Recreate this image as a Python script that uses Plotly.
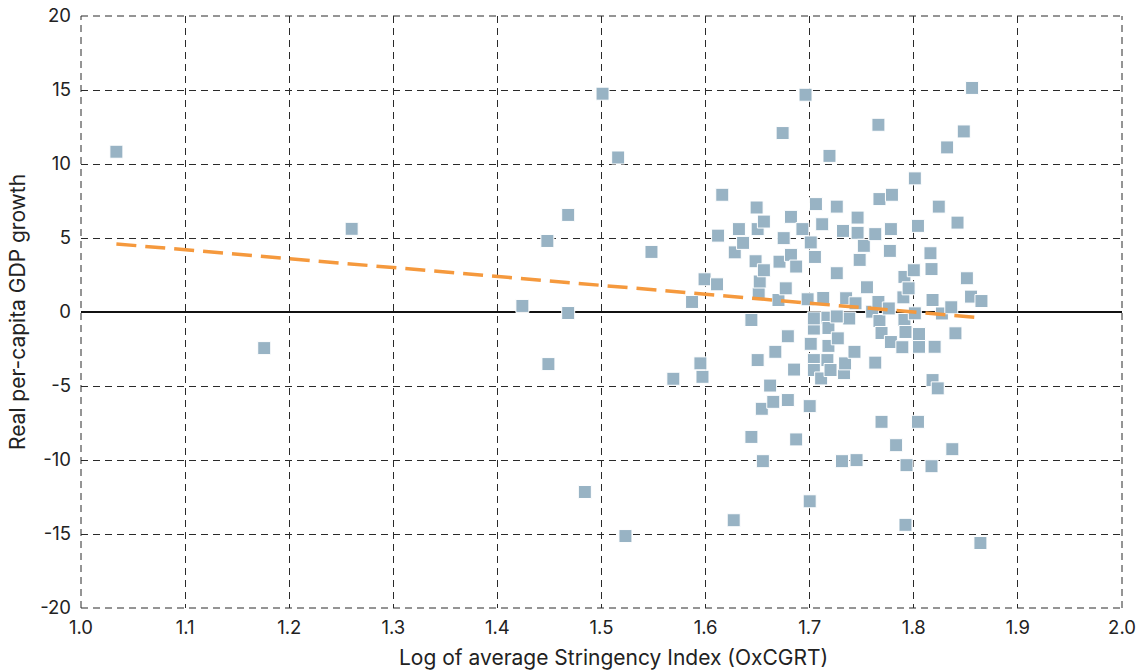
import plotly.graph_objects as go

# Country observations: log of average stringency index vs real per-capita GDP growth (%)
stringency_log = [
    1.034, 1.176, 1.260, 1.424, 1.448, 1.449, 1.468, 1.468, 1.484, 1.501,
    1.516, 1.523, 1.548, 1.569, 1.587, 1.595, 1.597, 1.599, 1.611, 1.612,
    1.616, 1.628, 1.627, 1.632, 1.636, 1.644, 1.644, 1.648, 1.649, 1.650,
    1.650, 1.651, 1.652, 1.654, 1.655, 1.656, 1.656, 1.662, 1.665, 1.667,
    1.670, 1.671, 1.674, 1.675, 1.677, 1.679, 1.679, 1.682, 1.682, 1.685,
    1.687, 1.687, 1.693, 1.696, 1.698, 1.700, 1.700, 1.701, 1.701, 1.704,
    1.704, 1.704, 1.704, 1.705, 1.706, 1.711, 1.712, 1.713, 1.717, 1.717,
    1.718, 1.718, 1.719, 1.720, 1.726, 1.726, 1.727, 1.732, 1.731, 1.733,
    1.734, 1.735, 1.738, 1.743, 1.744, 1.745, 1.746, 1.746, 1.748, 1.752,
    1.755, 1.760, 1.763, 1.763, 1.766, 1.766, 1.767, 1.767, 1.769, 1.769,
    1.776, 1.778, 1.777, 1.778, 1.779, 1.783, 1.789, 1.790, 1.791, 1.792,
    1.791, 1.792, 1.793, 1.795, 1.800, 1.801, 1.801, 1.804, 1.804, 1.805,
    1.805, 1.816, 1.817, 1.817, 1.818, 1.818, 1.820, 1.823, 1.824, 1.827,
    1.832, 1.836, 1.837, 1.840, 1.842, 1.848, 1.851, 1.855, 1.856, 1.864,
    1.865, 1.726,
]
gdp_growth = [
    10.83, -2.44, 5.62, 0.41, 4.80, -3.52, 6.56, -0.07, -12.16, 14.75,
    10.44, -15.14, 4.06, -4.51, 0.68, -3.47, -4.38, 2.21, 1.87, 5.16,
    7.92, 4.03, -14.07, 5.60, 4.67, -0.54, -8.44, 3.43, 7.06, 5.60,
    -3.25, 1.22, 2.06, -6.54, -10.08, 2.82, 6.11, -4.97, -6.07, -2.69,
    0.81, 3.40, 12.09, 4.99, 1.60, -1.64, -5.95, 6.43, 3.86, -3.89,
    3.07, -8.61, 5.60, 14.68, 0.86, -6.36, -12.79, 4.70, -2.15, -1.12,
    -0.43, -3.25, -3.92, 3.72, 7.29, -4.49, 5.93, 0.95, -3.25, -0.39,
    -1.08, -2.29, 10.55, -3.92, 7.12, 2.62, -1.78, 5.48, -10.08, -4.13,
    -3.47, 0.93, -0.44, -2.69, 0.59, -10.01, 6.38, 5.35, 3.52, 4.47,
    1.67, 0.02, 5.26, -3.42, 0.68, 12.65, 7.63, -0.61, -1.42, -7.42,
    0.24, 5.60, 4.13, -2.03, 7.92, -9.00, -2.38, 0.99, 2.37, -14.38,
    -0.54, -1.35, -10.35, 1.60, 2.82, 9.03, -0.09, 5.82, -7.42, -2.35,
    -1.49, 3.97, 2.90, -10.42, 0.81, -4.60, -2.35, -5.16, 7.12, -0.10,
    11.12, 0.32, -9.27, -1.44, 6.04, 12.20, 2.28, 1.04, 15.14, -15.61,
    0.74, -0.30,
]

# Fitted linear trend (end points)
trend_x = [1.034, 1.866]
trend_y = [4.6, -0.4]

x_ticks = [1.0, 1.1, 1.2, 1.3, 1.4, 1.5, 1.6, 1.7, 1.8, 1.9, 2.0]
y_ticks = [-20, -15, -10, -5, 0, 5, 10, 15, 20]

FONT = "Inter, Roboto, 'DejaVu Sans', sans-serif"
TEXT = "#222222"
GRID = "#2a2a2a"
DASH = "7px,5px"

fig = go.Figure()

fig.add_trace(go.Scatter(
    x=stringency_log, y=gdp_growth, mode="markers",
    marker=dict(symbol="square", size=13, color="#98b3c4",
                line=dict(color="#ffffff", width=1)),
    hoverinfo="x+y",
))

fig.add_trace(go.Scatter(
    x=trend_x, y=trend_y, mode="lines",
    line=dict(color="#f5993d", width=3.5, dash="20px,9px"),
    hoverinfo="skip",
))

axis_common = dict(
    showgrid=True, gridcolor=GRID, gridwidth=1, griddash=DASH,
    showline=False, ticks="", zeroline=False, automargin=False,
    tickfont=dict(family=FONT, size=18.5, color=TEXT),
    title_font=dict(family=FONT, size=21, color=TEXT),
)

fig.update_xaxes(
    range=[1.0, 2.0], tickvals=x_ticks,
    ticktext=[f"{v:.1f}" for v in x_ticks],
    ticklabelstandoff=6,
    **axis_common,
)
fig.update_yaxes(
    range=[-20, 20], tickvals=y_ticks,
    ticktext=[str(v) for v in y_ticks],
    title_text="Real per-capita GDP growth",
    title_standoff=8, ticklabelstandoff=9,
    **axis_common,
)
fig.update_yaxes(zeroline=True, zerolinecolor="#111111", zerolinewidth=1.5)

# X-axis title, placed as a paper-anchored label below the tick labels
fig.add_annotation(
    text="Log of average Stringency Index (OxCGRT)",
    xref="paper", yref="paper", x=0.512, y=0, yshift=-49,
    xanchor="center", yanchor="middle", showarrow=False,
    font=dict(family=FONT, size=21, color=TEXT),
)

# Dashed frame along the four edges of the plotting area
for x0, y0, x1, y1 in [(0, 1, 1, 1), (0, 0, 1, 0), (0, 0, 0, 1), (1, 0, 1, 1)]:
    fig.add_shape(type="line", xref="paper", yref="paper",
                  x0=x0, y0=y0, x1=x1, y1=y1,
                  line=dict(color=GRID, width=1, dash=DASH), layer="below")

fig.update_layout(
    width=1139, height=671,
    margin=dict(l=81, r=17, t=16, b=63),
    paper_bgcolor="#ffffff", plot_bgcolor="#ffffff",
    showlegend=False,
    font=dict(family=FONT, color=TEXT),
)

fig.write_html("out.html")
